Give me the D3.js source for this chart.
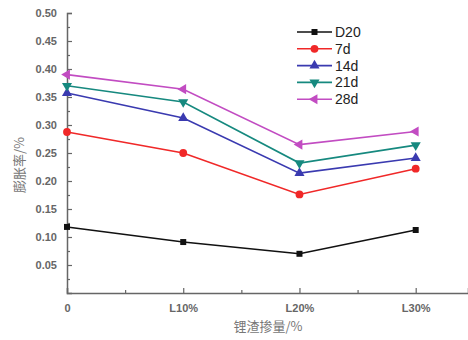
<!DOCTYPE html>
<html lang="zh">
<head>
    <meta charset="UTF-8">
    <title>膨胀率</title>
    <script src="https://cdn.jsdelivr.net/npm/d3@7/dist/d3.min.js"></script>
    <style>
        body { margin: 0; background: #fff; }
        .tick text { font-family: "Liberation Sans", Arial, sans-serif; font-size: 11px; font-weight: bold; fill: #666; }
    </style>
</head>
<body>
<script>
    const width = 468;
    const height = 340;

    // 数据
    const categories = ['0', 'L10%', 'L20%', 'L30%'];
    const seriesNames = ['D20', '7d', '14d', '21d', '28d'];
    const d20 = [0.118, 0.091, 0.070, 0.1125];
    const d7 = [0.2875, 0.250, 0.176, 0.222];
    const d14 = [0.357, 0.3125, 0.214, 0.241];
    const d21 = [0.370, 0.341, 0.232, 0.264];
    const d28 = [0.390, 0.364, 0.265, 0.2885];
    const yTicks = [0.05, 0.10, 0.15, 0.20, 0.25, 0.30, 0.35, 0.40, 0.45, 0.50];

    const colors = ['#111111', '#f02828', '#3a3ab0', '#16897f', '#c24cc2'];
    const allSeries = [d20, d7, d14, d21, d28];

    const svg = d3.select('body').append('svg')
        .attr('width', width)
        .attr('height', height);

    const x = d3.scaleLinear().domain([0, 3.45]).range([67, 468]);
    const y = d3.scaleLinear().domain([0, 0.5]).range([293, 13]);

    // 坐标轴
    const axisColor = '#666';
    const yAxis = svg.append('g')
        .attr('transform', 'translate(67,0)')
        .call(d3.axisLeft(y).tickValues(yTicks).tickSize(-5).tickPadding(10).tickFormat(d3.format('.2f')));
    const yMinor = svg.append('g')
        .attr('transform', 'translate(67,0)')
        .call(d3.axisLeft(y).tickValues(d3.range(0.025, 0.5, 0.05)).tickSize(-3).tickFormat(''));
    const xAxis = svg.append('g')
        .attr('transform', 'translate(0,293)')
        .call(d3.axisBottom(x).tickValues([0, 1, 2, 3]).tickSize(-5).tickPadding(11).tickFormat(i => categories[i]));
    const xMinor = svg.append('g')
        .attr('transform', 'translate(0,293)')
        .call(d3.axisBottom(x).tickValues([0.5, 1.5, 2.5]).tickSize(-3).tickFormat(''));

    [yAxis, yMinor, xAxis, xMinor].forEach(g => {
        g.selectAll('path.domain').attr('stroke', axisColor).attr('stroke-width', 1.5);
        g.selectAll('.tick line').attr('stroke', axisColor).attr('stroke-width', 1.2);
    });
    yMinor.select('path.domain').remove();
    xMinor.select('path.domain').remove();
    yAxis.selectAll('.tick text').attr('dy', '0.35em');

    // 轴标题
    svg.append('text')
        .attr('x', 268).attr('y', 331)
        .attr('text-anchor', 'middle')
        .style('font-family', '"Noto Sans CJK SC", sans-serif')
        .style('font-size', '13px')
        .style('fill', '#777')
        .text('锂渣掺量/%');
    svg.append('text')
        .attr('transform', 'translate(24,165) rotate(-90)')
        .attr('text-anchor', 'middle')
        .style('font-family', '"Noto Sans CJK SC", sans-serif')
        .style('font-size', '13px')
        .style('fill', '#777')
        .text('膨胀率/%');

    // 标记形状
    const symbols = [
        d3.symbol().type(d3.symbolSquare).size(36),
        d3.symbol().type(d3.symbolCircle).size(48),
        d3.symbol().type(d3.symbolTriangle).size(44),
        d3.symbol().type(d3.symbolTriangle).size(44),
        d3.symbol().type(d3.symbolTriangle).size(44)
    ];
    const rotations = [0, 0, 0, 180, -90];

    const line = d3.line()
        .x((d, i) => x(i))
        .y(d => y(d));

    allSeries.forEach((s, k) => {
        svg.append('path')
            .datum(s)
            .attr('fill', 'none')
            .attr('stroke', colors[k])
            .attr('stroke-width', 1.6)
            .attr('d', line);
        svg.append('g').selectAll('path')
            .data(s)
            .enter()
            .append('path')
            .attr('d', symbols[k])
            .attr('fill', colors[k])
            .attr('transform', (d, i) => 'translate(' + x(i) + ',' + y(d) + ') rotate(' + rotations[k] + ')');
    });

    // 图例
    const legend = svg.append('g').attr('transform', 'translate(297,32)');
    seriesNames.forEach((name, k) => {
        const row = legend.append('g').attr('transform', 'translate(0,' + k * 16.8 + ')');
        row.append('line')
            .attr('x1', 0).attr('x2', 35)
            .attr('stroke', colors[k]).attr('stroke-width', 1.6);
        row.append('path')
            .attr('d', symbols[k])
            .attr('fill', colors[k])
            .attr('transform', 'translate(17.5,0) rotate(' + rotations[k] + ')');
        row.append('text')
            .attr('x', 38).attr('dy', '0.36em')
            .style('font-family', '"Liberation Sans", Arial, sans-serif')
            .style('font-size', '14px')
            .style('fill', '#222')
            .text(name);
    });
</script>
</body>
</html>
